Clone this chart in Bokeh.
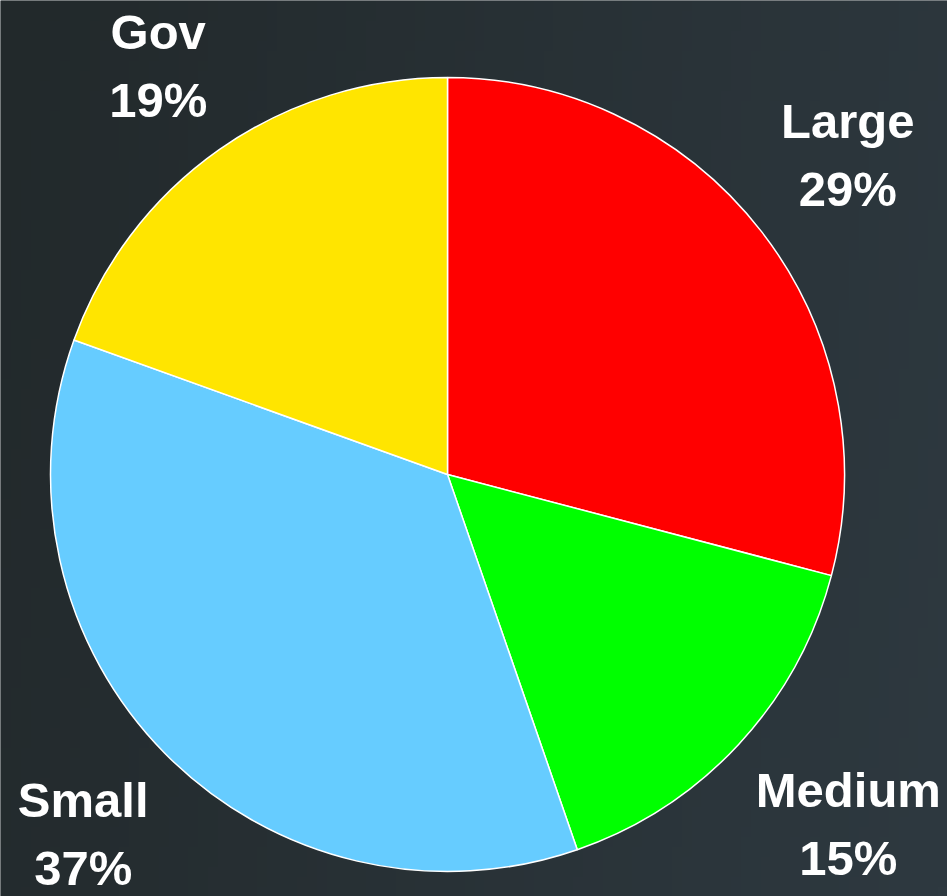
import numpy as np
from bokeh.plotting import figure
from bokeh.models import Range1d, ColumnDataSource
from bokeh.core.properties import value
from bokeh.embed import file_html
from bokeh.resources import INLINE

# ---- data ----
categories = ["Large", "Medium", "Small", "Gov"]
shares = [29.1, 15.6, 35.8, 19.5]          # slice sizes (%)
pct_labels = ["29%", "15%", "37%", "19%"]  # labels as printed
colors = ["#ff0000", "#00ff00", "#66ccff", "#ffe500"]

W, H = 947, 896
CX, CY = 447, 474          # pie centre in pixels from the top-left
R = 397                    # pie radius in pixels
LABEL_R = 430              # distance of the label box corner from the centre
FONT_PX = 49
PAD = 7
HALF_H = 57

# approximate advance widths (em) of Liberation Sans Bold, for label box sizing
ADV = {"G": .778, "o": .611, "v": .556, "L": .611, "a": .556, "r": .389, "g": .611,
       "e": .556, "M": .833, "d": .611, "i": .278, "u": .611, "m": .889, "S": .667,
       "l": .278, "%": .889}


def text_w(s):
    return sum(ADV.get(ch, .556) for ch in s) * FONT_PX


p = figure(width=W, height=H, output_backend="svg", toolbar_location=None,
           x_range=Range1d(-CX, W - CX), y_range=Range1d(-(H - CY), CY),
           x_axis_location=None, y_axis_location=None, min_border=0,
           background_fill_color="#283035", border_fill_color="#283035",
           outline_line_color=None)
p.grid.visible = False

# background gradient
gx = np.linspace(0, 1, 96)[None, :]
gy = np.linspace(0, 1, 90)[:, None]   # row 0 = bottom
c0 = np.array([34, 41, 43], float)    # left
c1 = np.array([46, 57, 64], float)    # right
t = np.clip(gx * 0.85 + (1 - gy) * 0.15, 0, 1)
rgb = c0[None, None, :] + (c1 - c0)[None, None, :] * t[..., None]
img = np.empty((90, 96), dtype=np.uint32)
view = img.view(dtype=np.uint8).reshape((90, 96, 4))
view[..., 0] = rgb[..., 0].astype(np.uint8)
view[..., 1] = rgb[..., 1].astype(np.uint8)
view[..., 2] = rgb[..., 2].astype(np.uint8)
view[..., 3] = 255
p.image_rgba(image=[img], x=-CX, y=-(H - CY), dw=W, dh=H)

# wedges, clockwise from 12 o'clock
tot = float(sum(shares))
ang = np.array(shares) / tot * 2 * np.pi
ends = np.pi / 2 - np.cumsum(ang)
starts = ends + ang
mids = (starts + ends) / 2

# label placement: inner corner of the label box sits on a circle
lx, ly = [], []
for c, pc, m in zip(categories, pct_labels, mids):
    w = max(text_w(c), text_w(pc))
    sx = 1 if np.cos(m) >= 0 else -1
    sy = 1 if np.sin(m) >= 0 else -1
    lx.append(LABEL_R * np.cos(m) + sx * (w / 2 - PAD))
    ly.append(LABEL_R * np.sin(m) + sy * HALF_H)

src = ColumnDataSource(dict(cat=categories, start=starts, end=ends, color=colors,
                            pct=pct_labels, lx=lx, ly=ly))

p.wedge(x=0, y=0, radius=R, start_angle="start", end_angle="end", direction="clock",
        fill_color="color", line_color="white", line_width=1.5, source=src)

font = value("Liberation Sans")
p.text(x="lx", y="ly", text="cat", source=src, text_font=font, text_font_style="bold",
       text_font_size=f"{FONT_PX}px", text_color="white", text_align="center",
       text_baseline="middle", y_offset=-34)
p.text(x="lx", y="ly", text="pct", source=src, text_font=font, text_font_style="bold",
       text_font_size=f"{FONT_PX}px", text_color="white", text_align="center",
       text_baseline="middle", y_offset=34)

open("out.html", "w").write(file_html(p, INLINE))
